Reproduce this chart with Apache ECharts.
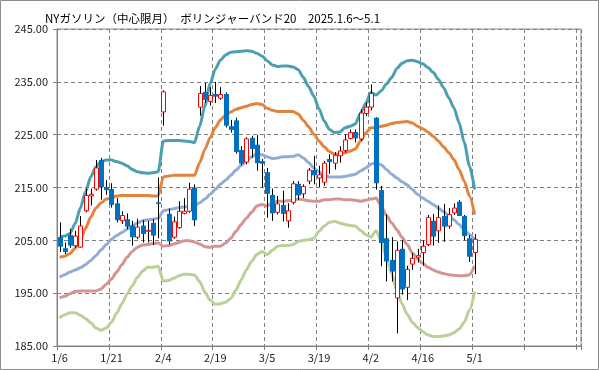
<!DOCTYPE html>
<html><head><meta charset="utf-8">
<script src="https://cdn.jsdelivr.net/npm/echarts@6/dist/echarts.min.js"></script>
<style>html,body{margin:0;padding:0;background:#fff}#c{width:599px;height:370px}</style>
</head><body><div id="c"></div>
<script>
const titleText = 'NYガソリン（中心限月）　ボリンジャーバンド20　2025.1.6～5.1';
const dates = ['1/6','1/7','1/8','1/9','1/10','1/13','1/14','1/15','1/16','1/17',
 '1/21','1/22','1/23','1/24','1/27','1/28','1/29','1/30','1/31','2/3',
 '2/4','2/5','2/6','2/7','2/10','2/11','2/12','2/13','2/14','2/18',
 '2/19','2/20','2/21','2/24','2/25','2/26','2/27','2/28','3/3','3/4',
 '3/5','3/6','3/7','3/10','3/11','3/12','3/13','3/14','3/17','3/18',
 '3/19','3/20','3/21','3/24','3/25','3/26','3/27','3/28','3/31','4/1',
 '4/2','4/3','4/4','4/7','4/8','4/9','4/10','4/11','4/14','4/15',
 '4/16','4/17','4/21','4/22','4/23','4/24','4/25','4/28','4/29','4/30',
 '5/1'];
const blankSlots = 20;
const yTicks = [185, 195, 205, 215, 225, 235, 245];

const open = [205.6,203.5,206.0,204.0,203.7,210.6,213.4,214.7,220.2,215.1,
 214.7,212.0,208.7,209.0,207.8,205.6,207.8,206.7,208.3,212.2,
 229.3,210.0,205.6,207.4,210.1,210.5,215.0,230.2,233.1,231.3,
 232.7,231.9,232.7,226.6,227.7,222.1,219.8,224.4,223.1,220.0,
 217.9,213.6,210.3,211.7,208.7,212.2,215.7,213.8,216.2,218.3,
 216.8,216.0,220.4,219.6,221.0,222.0,224.3,225.5,224.2,229.0,
 230.2,228.2,214.5,205.4,201.3,194.1,203.4,196.1,200.5,201.8,
 202.7,204.2,208.7,206.8,209.6,207.7,210.2,212.3,209.6,205.4,
 202.7];
const close = [203.8,202.8,204.0,205.8,207.7,213.5,213.7,218.7,215.1,214.5,
 211.7,208.8,209.7,207.6,205.6,207.5,206.2,206.9,205.9,211.9,
 233.1,204.8,208.5,210.5,210.5,214.7,208.8,232.8,231.6,232.4,
 232.2,232.6,226.7,225.9,221.7,219.5,224.2,222.3,219.6,219.5,
 213.8,210.1,211.9,210.0,210.6,215.7,213.5,215.2,218.3,217.3,
 217.4,219.6,219.8,221.1,221.9,224.0,225.4,224.3,229.1,230.2,
 232.8,215.8,204.5,201.0,199.1,203.1,195.7,199.5,201.6,202.1,
 203.9,209.3,205.7,209.3,207.6,209.9,211.1,209.6,205.8,201.9,
 205.2];
const low = [202.8,202.4,203.6,203.6,203.6,210.3,211.6,214.4,212.7,213.6,
 211.2,208.4,208.1,207.1,204.0,205.2,204.6,204.6,204.1,205.4,
 226.7,204.2,205.3,207.2,209.9,210.2,207.7,228.6,231.0,230.5,
 231.0,231.6,226.4,225.4,221.4,219.2,219.4,220.6,218.2,215.0,
 209.3,208.7,209.9,208.6,207.4,211.8,212.6,213.0,215.6,215.6,
 215.1,215.3,217.6,218.4,219.7,221.6,224.1,223.5,223.8,228.5,
 229.6,214.6,200.1,197.2,197.2,187.4,194.7,193.7,199.4,200.8,
 200.2,203.9,204.0,204.5,204.7,207.2,209.8,209.6,205.0,200.9,
 198.6];
const high = [208.4,204.6,207.2,206.8,209.6,214.8,214.8,220.2,220.6,216.4,
 215.8,213.0,210.5,210.1,208.7,209.1,208.8,208.7,209.0,216.9,
 233.4,211.0,209.5,212.4,213.0,215.9,215.6,234.2,234.8,234.0,
 235.0,234.0,233.0,227.8,228.2,222.8,224.5,224.8,224.9,220.4,
 218.7,214.8,213.4,214.4,212.0,216.2,216.2,215.6,218.7,221.0,
 219.1,220.0,221.3,221.7,222.8,225.1,226.0,226.0,229.8,231.1,
 234.5,228.3,215.3,209.9,205.6,204.8,205.1,200.2,202.6,203.4,
 205.0,209.8,210.0,211.6,211.9,211.1,212.0,212.6,209.8,206.0,
 206.2];

const upper2 = [205.7,205.8,206.3,208.2,211.1,214.2,217.0,218.9,219.9,220.2,
 220.2,219.9,219.6,219.1,218.4,218.0,217.8,217.7,217.8,218.0,
 223.8,223.9,223.9,223.9,223.8,223.7,223.5,226.6,230.4,234.6,
 237.4,239.1,240.1,240.6,240.7,240.8,240.9,240.8,240.4,239.9,
 239.0,238.2,237.9,238.0,238.0,237.8,237.3,235.8,234.1,232.3,
 229.9,227.6,226.0,225.4,225.5,226.3,226.6,227.0,229.1,230.9,
 233.0,232.5,233.3,234.6,235.8,237.5,238.5,239.0,239.1,238.8,
 238.4,237.7,236.8,235.5,233.9,232.0,230.1,227.3,223.5,219.1,
 214.6];
const upper1 = [201.8,202.0,202.5,203.5,205.1,207.3,209.4,211.1,212.1,212.8,
 213.1,213.4,213.5,213.5,213.5,213.5,213.5,213.5,213.4,213.4,
 217.0,217.2,217.3,217.3,217.3,217.3,217.3,219.7,222.2,224.4,
 226.3,227.8,228.7,229.3,229.8,230.1,230.4,230.7,230.9,230.7,
 230.0,229.6,229.4,229.4,229.4,229.4,228.9,227.7,226.5,225.1,
 223.8,222.7,221.8,221.3,221.3,221.6,221.9,222.3,223.8,225.3,
 226.3,226.3,226.6,226.8,227.1,227.3,227.4,227.5,227.2,226.6,
 226.1,225.5,224.7,223.8,222.7,221.6,220.3,218.4,216.2,213.4,
 209.9];
const ma20 = [198.0,198.5,199.0,199.4,199.8,200.4,201.2,202.1,203.2,204.2,
 205.2,205.9,206.5,207.1,207.7,208.3,208.7,208.9,209.0,209.2,
 210.6,210.8,211.0,211.2,211.3,211.4,211.5,212.1,212.8,213.7,
 214.6,215.6,216.4,217.3,218.3,219.2,220.0,220.8,221.4,221.2,
 220.8,220.5,220.6,220.8,220.8,220.9,221.2,220.6,219.7,218.7,
 218.0,217.3,217.0,217.0,217.0,217.1,217.3,217.5,218.1,218.7,
 219.4,219.7,219.3,218.4,217.5,216.8,216.1,215.5,214.6,213.7,
 213.0,212.4,211.8,211.1,210.4,209.7,208.9,208.0,207.0,206.1,
 205.1];
const lower1 = [194.1,194.4,194.9,195.3,195.4,195.4,195.4,195.4,195.8,196.7,
 197.7,199.0,200.4,201.8,202.9,203.7,204.1,204.2,204.4,204.5,
 203.9,204.0,204.3,204.6,204.9,204.9,204.7,204.3,203.8,203.7,
 203.9,203.9,204.5,205.4,206.7,208.0,209.2,210.3,211.5,211.8,
 211.5,212.1,212.4,212.4,212.5,212.6,212.8,212.7,212.5,212.4,
 212.4,212.7,212.7,212.8,212.8,212.7,212.7,212.6,212.4,212.6,
 212.8,213.0,211.5,209.7,208.3,207.0,205.6,204.2,202.6,201.5,
 200.6,199.9,199.4,199.0,198.7,198.5,198.4,198.3,198.3,198.5,
 200.2];
const lower2 = [190.3,190.9,191.3,191.3,190.8,190.2,189.4,188.4,188.0,188.4,
 189.5,191.2,193.0,194.8,196.4,198.0,199.2,199.9,199.9,200.1,
 197.3,197.4,197.8,198.3,198.6,198.6,198.4,197.2,195.2,193.7,
 192.9,193.0,193.3,194.0,195.6,197.5,199.4,201.0,202.3,202.9,
 202.3,203.1,203.9,204.0,204.0,204.2,204.8,205.0,205.1,205.4,
 206.7,207.7,208.4,208.6,208.3,208.0,207.8,207.7,206.9,206.1,
 205.6,206.8,204.9,201.7,198.7,195.5,193.0,191.0,189.5,188.5,
 187.7,187.1,186.8,186.8,186.9,187.1,187.5,188.2,189.5,191.8,
 195.3];

const categories = dates.concat(new Array(blankSlots).fill(''));
const candleData = open.map((o, i) => [i, o, close[i], low[i], high[i]]);

const chart = echarts.init(document.getElementById('c'), null, {renderer: 'canvas'});
const font = "'Noto Sans CJK JP','Noto Sans',sans-serif";
const dash = {color: '#7f7f7f', width: 1, type: [4, 3]};

function band(name, data, color) {
  return {
    name, type: 'line', data, showSymbol: false, symbol: 'none',
    smooth: 0.25, smoothMonotone: 'x', z: 2, silent: true,
    lineStyle: {color, width: 3}
  };
}

chart.setOption({
  animation: false,
  backgroundColor: '#fff',
  title: {
    text: titleText, left: 40, top: 8,
    textStyle: {fontFamily: font, fontSize: 11.5, fontWeight: 'normal', color: '#000'}
  },
  graphic: [{
    type: 'rect', shape: {x: 0.5, y: 0.5, width: 598, height: 369},
    style: {fill: null, stroke: '#8c8c8c', lineWidth: 1}, silent: true, z: 100
  }],
  grid: {left: 57, right: 18, top: 29, bottom: 24, show: true, borderColor: '#8c8c8c', borderWidth: 1},
  xAxis: {
    type: 'category', data: categories, boundaryGap: true,
    axisLine: {lineStyle: {color: '#808080'}},
    axisTick: {show: true, interval: 9, length: 4, lineStyle: {color: '#808080'}},
    axisLabel: {interval: 9, margin: 6, fontFamily: font, fontSize: 11, color: '#222'},
    splitLine: {show: true, interval: 9, lineStyle: dash}
  },
  yAxis: {
    type: 'value', min: yTicks[0], max: yTicks[yTicks.length - 1], interval: 10,
    axisLine: {show: true, lineStyle: {color: '#808080'}},
    axisTick: {show: true, length: 4, lineStyle: {color: '#808080'}},
    axisLabel: {margin: 9, fontFamily: font, fontSize: 11, color: '#222',
      formatter: v => v.toFixed(2)},
    splitLine: {show: true, lineStyle: dash}
  },
  series: [
    band('+2σ', upper2, '#4a9fb3'),
    band('+1σ', upper1, '#e3843e'),
    band('MA20', ma20, '#93acd6'),
    band('-1σ', lower1, '#d49493'),
    band('-2σ', lower2, '#b9d199'),
    {
      name: 'candle', type: 'custom', z: 5, silent: true,
      data: candleData,
      encode: {x: 0, y: [1, 2, 3, 4]},
      renderItem: function (params, api) {
        const i = api.value(0);
        const o = api.value(1), c = api.value(2), l = api.value(3), h = api.value(4);
        const top = api.coord([i, Math.max(o, c)]);
        const bot = api.coord([i, Math.min(o, c)]);
        const pl = api.coord([i, l]);
        const ph = api.coord([i, h]);
        const x = Math.round(top[0]) + 0.5;
        const hgt = Math.max(bot[1] - top[1], 1);
        const children = [{
          type: 'line', shape: {x1: x, y1: ph[1], x2: x, y2: pl[1]},
          style: {stroke: '#000', lineWidth: 1}
        }];
        if (c >= o) {
          children.push({type: 'rect', shape: {x: x - 2, y: top[1], width: 4, height: hgt},
            style: {fill: '#fff', stroke: '#ff0000', lineWidth: 1}});
        } else {
          children.push({type: 'rect', shape: {x: x - 2.5, y: top[1], width: 5, height: hgt},
            style: {fill: '#0070c0', stroke: null}});
        }
        return {type: 'group', children};
      }
    }
  ]
});
</script></body></html>
